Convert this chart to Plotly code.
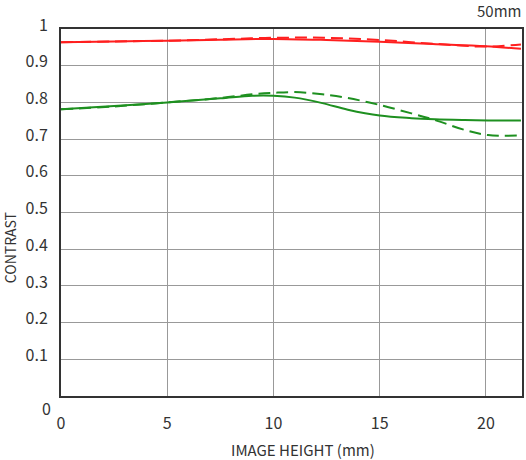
import plotly.graph_objects as go

x_pts = [0, 2.5, 5, 7.5, 10, 12.5, 15, 17.5, 20, 21.65]
red_solid = [0.964, 0.966, 0.968, 0.971, 0.973, 0.970, 0.965, 0.959, 0.953, 0.946]
red_dash = [0.964, 0.966, 0.968, 0.972, 0.976, 0.976, 0.970, 0.960, 0.952, 0.958]
green_x = [0, 2.5, 5, 7.5, 9, 10, 11, 12.3, 13.5, 15, 16.5, 17.6, 19, 20.1, 21.65]
green_solid = [0.781, 0.790, 0.800, 0.811, 0.818, 0.818, 0.813, 0.798, 0.780, 0.764, 0.757, 0.754, 0.752, 0.751, 0.751]
green_dash = [0.781, 0.789, 0.800, 0.812, 0.822, 0.826, 0.828, 0.822, 0.812, 0.793, 0.770, 0.752, 0.725, 0.711, 0.710]

y_ticks = [0, 0.1, 0.2, 0.3, 0.4, 0.5, 0.6, 0.7, 0.8, 0.9, 1]
y_labels = ["", "0.1", "0.2", "0.3", "0.4", "0.5", "0.6", "0.7", "0.8", "0.9", "1"]
x_ticks = [0, 5, 10, 15, 20]

RED = "#ff1f1f"
GREEN = "#1e9020"
TXT = "#333333"
font = "Noto Sans CJK JP"
DASH = "12px,6px"

fig = go.Figure()
fig.add_trace(go.Scatter(x=x_pts, y=red_solid, mode="lines",
                         line=dict(color=RED, width=2, shape="spline")))
fig.add_trace(go.Scatter(x=x_pts, y=red_dash, mode="lines",
                         line=dict(color=RED, width=2, dash=DASH, shape="spline")))
fig.add_trace(go.Scatter(x=green_x, y=green_solid, mode="lines",
                         line=dict(color=GREEN, width=2, shape="spline")))
fig.add_trace(go.Scatter(x=green_x, y=green_dash, mode="lines",
                         line=dict(color=GREEN, width=2, dash=DASH, shape="spline")))

fig.update_layout(
    width=526, height=460,
    margin=dict(l=61, r=2, t=29, b=64),
    paper_bgcolor="white", plot_bgcolor="white",
    showlegend=False,
    font=dict(family=font, size=16, color=TXT),
    xaxis=dict(range=[0, 21.7], tickvals=x_ticks, showgrid=True,
               gridcolor="#999", gridwidth=1, zeroline=False,
               showline=True, linecolor="#333", linewidth=2, mirror=True,
               ticks="", ticklabelstandoff=12, tickfont=dict(size=16)),
    yaxis=dict(range=[0, 1], tickvals=y_ticks, ticktext=y_labels,
               showgrid=True, gridcolor="#999", gridwidth=1, zeroline=False,
               showline=True, linecolor="#333", linewidth=2, mirror=True,
               ticks="", ticklabelstandoff=8, ticklabelshift=-4,
               tickfont=dict(size=16)),
    annotations=[
        dict(text="50mm", x=(525 - 61) / 463, y=1 + (29 - 10) / 367,
             xref="paper", yref="paper",
             showarrow=False, xanchor="right", yanchor="middle",
             font=dict(size=15, color=TXT)),
        dict(text="IMAGE HEIGHT (mm)", x=(304 - 61) / 463, y=-(449 - 396) / 367,
             xref="paper", yref="paper",
             showarrow=False, xanchor="center", yanchor="middle",
             font=dict(size=15, color=TXT)),
        dict(text="CONTRAST", x=-(61 - 10) / 463, y=(396 - 248) / 367,
             xref="paper", yref="paper",
             showarrow=False, textangle=-90, xanchor="center", yanchor="middle",
             font=dict(size=14, color=TXT)),
        dict(text="0", x=-(61 - 46) / 463, y=-(408 - 396) / 367,
             xref="paper", yref="paper",
             showarrow=False, xanchor="center", yanchor="middle",
             font=dict(size=16, color=TXT)),
    ],
)
fig.write_html("out.html", config={"displayModeBar": False},
               post_script="document.body.style.margin='0';")
